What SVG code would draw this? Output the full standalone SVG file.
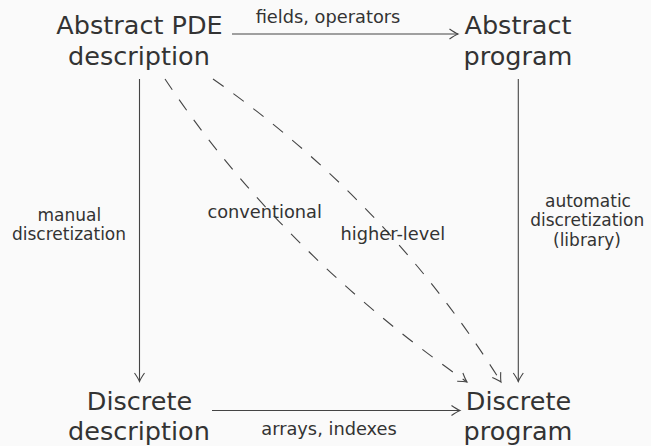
<svg xmlns="http://www.w3.org/2000/svg" width="651" height="446" viewBox="0 0 651 446">
<defs>
<style>
.big{font-family:"DejaVu Sans",sans-serif;font-size:25.5px;fill:#333;text-anchor:middle}
.lbl{font-family:"DejaVu Sans",sans-serif;font-size:17.8px;fill:#333;text-anchor:middle}
.stk{font-family:"DejaVu Sans",sans-serif;font-size:17px;fill:#333;text-anchor:middle}
.ln{stroke:#444;stroke-width:1.1;fill:none}
.dash{stroke-dasharray:13 12}
</style>
<marker id="arr" viewBox="-10 -6 12 12" refX="0" refY="0" markerWidth="12" markerHeight="12" markerUnits="userSpaceOnUse" orient="auto">
<path d="M -8.5,-5 Q -3,-1.2 0,0 Q -3,1.2 -8.5,5" fill="none" stroke="#444" stroke-width="1.1"/>
</marker>
</defs>
<rect width="651" height="446" fill="#fafafa"/>
<g id="n-abstract-pde">
<text class="big" x="139.5" y="34">Abstract PDE</text>
<text class="big" x="139" y="65">description</text>
</g>
<g id="n-abstract-program">
<text class="big" x="518" y="34">Abstract</text>
<text class="big" x="518" y="65">program</text>
</g>
<g id="n-discrete-description">
<text class="big" x="139.5" y="410">Discrete</text>
<text class="big" x="139" y="440">description</text>
</g>
<g id="n-discrete-program">
<text class="big" x="518.5" y="410">Discrete</text>
<text class="big" x="518" y="440">program</text>
</g>
<g id="connectors">
<path class="ln" d="M 232,34 L 458,34" marker-end="url(#arr)"/>
<path class="ln" d="M 212,410.5 L 460,410.5" marker-end="url(#arr)"/>
<path class="ln" d="M 139.5,79 L 139.5,381.5" marker-end="url(#arr)"/>
<path class="ln" d="M 518.3,79 L 518.3,381.5" marker-end="url(#arr)"/>
<path class="ln dash" d="M 165,79 Q 279.5,250.8 467,382" marker-end="url(#arr)"/>
<path class="ln dash" d="M 213,79 Q 388.3,201.7 501,382" marker-end="url(#arr)"/>
<text class="lbl" x="328" y="23">fields, operators</text>
<text class="lbl" x="329" y="435">arrays, indexes</text>
<text class="stk" x="69.3" y="220.5">manual</text>
<text class="stk" x="69" y="240">discretization</text>
<text class="lbl" x="264.7" y="218.3">conventional</text>
<text class="lbl" x="392.8" y="240">higher-level</text>
<text class="stk" x="588" y="206.5">automatic</text>
<text class="stk" x="587.2" y="226">discretization</text>
<text class="stk" x="587" y="245.5">(library)</text>
</g>
</svg>
